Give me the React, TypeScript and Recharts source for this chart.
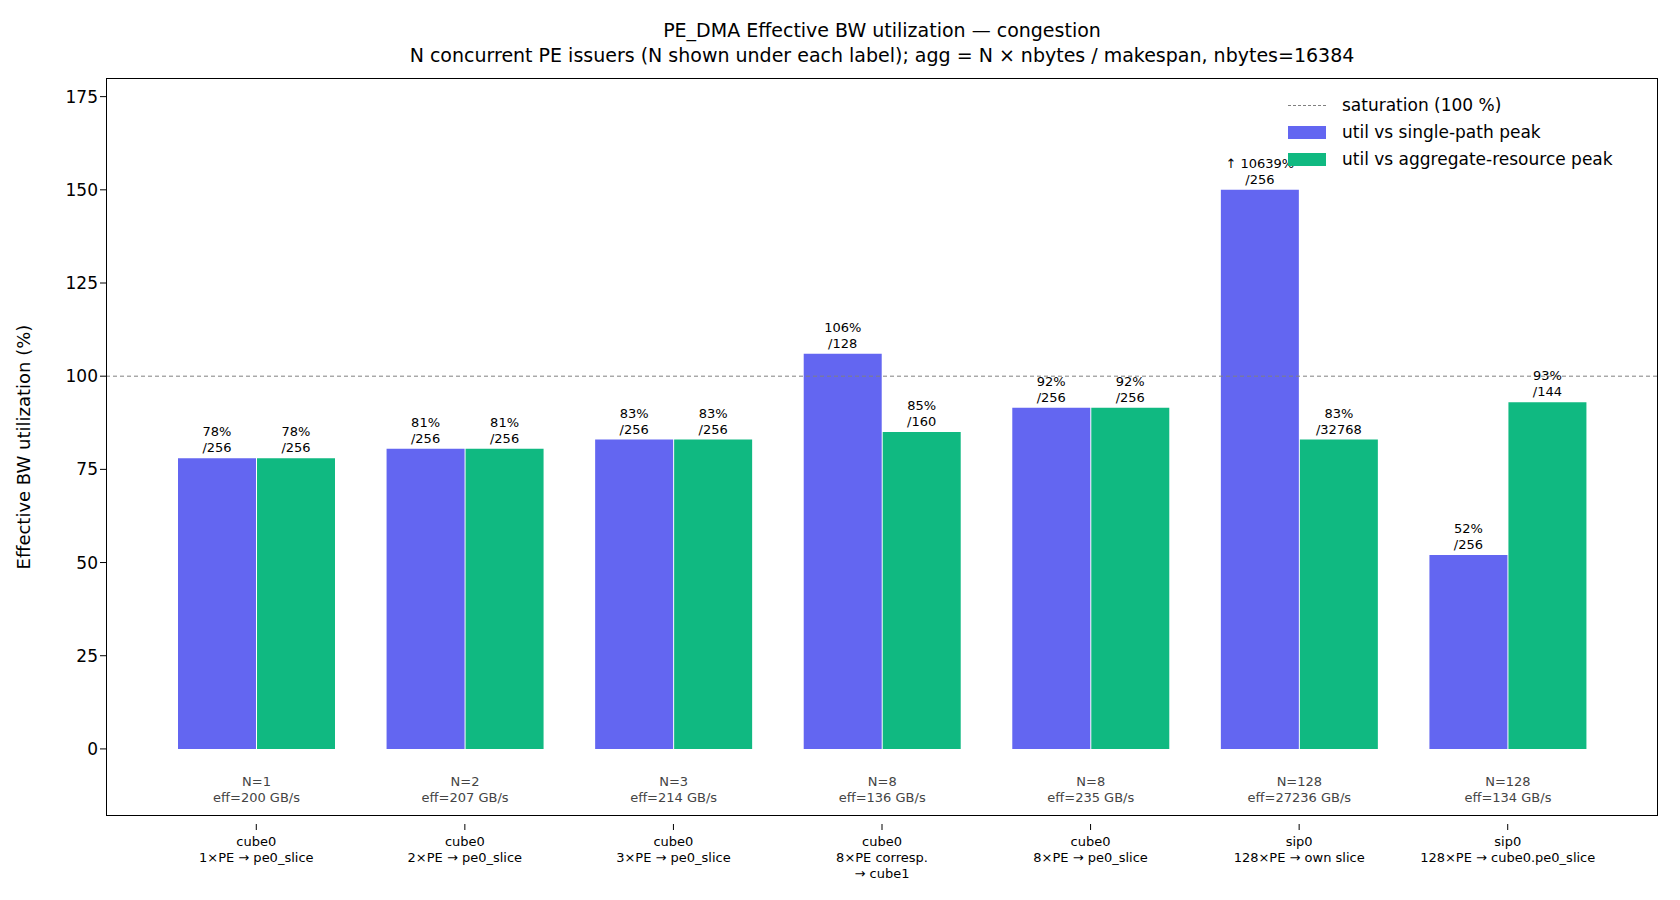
import React from "react";
import {
  Bar,
  ComposedChart,
  LabelList,
  ReferenceLine,
  XAxis,
  YAxis,
} from "recharts";

const categories = [
  "cube0\n1×PE → pe0_slice",
  "cube0\n2×PE → pe0_slice",
  "cube0\n3×PE → pe0_slice",
  "cube0\n8×PE corresp.\n→ cube1",
  "cube0\n8×PE → pe0_slice",
  "sip0\n128×PE → own slice",
  "sip0\n128×PE → cube0.pe0_slice",
];
const singlePath = [78, 80.5, 83, 106, 91.5, 150, 52];
const aggregate = [78, 80.5, 83, 85, 91.5, 83, 93];
const singleLabels = ["78%", "81%", "83%", "106%", "92%", "↑ 10639%", "52%"];
const singlePeaks = ["/256", "/256", "/256", "/128", "/256", "/256", "/256"];
const aggLabels = ["78%", "81%", "83%", "85%", "92%", "83%", "93%"];
const aggPeaks = ["/256", "/256", "/256", "/160", "/256", "/32768", "/144"];
const issuers = [1, 2, 3, 8, 8, 128, 128];
const effBw = [200, 207, 214, 136, 235, 27236, 134];
const yTicks = [0, 25, 50, 75, 100, 125, 150, 175];

const data = categories.map((c, i) => ({
  name: c,
  single: singlePath[i],
  agg: aggregate[i],
  i,
}));

const FONT = "DejaVu Sans, sans-serif";

const makeLabel = (tops: string[], bottoms: string[], withN: boolean) => (props: any) => {
  const { x, y, width, height, index } = props;
  const cx = x + width / 2;
  const zero = y + height;
  return (
    <g fontFamily={FONT}>
      <text x={cx} y={y - 22} textAnchor="middle" fontSize={13} fill="#000">{tops[index]}</text>
      <text x={cx} y={y - 6} textAnchor="middle" fontSize={13} fill="#000">{bottoms[index]}</text>
      {withN && (
        <g fill="#444" fontSize={13}>
          <text x={x - 0.5} y={zero + 37} textAnchor="middle">N={issuers[index]}</text>
          <text x={x - 0.5} y={zero + 53} textAnchor="middle">eff={effBw[index]} GB/s</text>
        </g>
      )}
    </g>
  );
};

const CatTick = (props: any) => {
  const { x, y, payload } = props;
  const lines = String(payload.value).split("\n");
  return (
    <g>
      <line x1={x} x2={x} y1={y} y2={y + 6} stroke="#000" />
      {lines.map((l, k) => (
        <text key={k} x={x} y={y + 22 + k * 16} textAnchor="middle" fontSize={13} fontFamily={FONT} fill="#000">
          {l}
        </text>
      ))}
    </g>
  );
};

export default function App() {
  return (
    <div style={{ position: "relative", width: 1680, height: 900, margin: -8, background: "#fff", fontFamily: FONT }}>
      <div style={{ position: "absolute", top: 18, width: 1680, paddingLeft: 106, paddingRight: 22, boxSizing: "border-box", textAlign: "center", fontSize: 19, lineHeight: "25px" }}>
        <div>PE_DMA Effective BW utilization — congestion</div>
        <div>N concurrent PE issuers (N shown under each label); agg = N × nbytes / makespan, nbytes=16384</div>
      </div>
      <ComposedChart
        width={1680}
        height={900}
        data={data}
        margin={{ top: 78, right: 22, bottom: 0, left: 0 }}
        barCategoryGap={26}
        barGap={1}
      >
        <XAxis
          dataKey="name"
          tick={<CatTick />}
          tickLine={false}
          axisLine={false}
          interval={0}
          height={84}
          padding={{ left: 46, right: 46 }}
        />
        <YAxis
          width={106}
          domain={[-18, 180]}
          ticks={yTicks}
          allowDataOverflow
          axisLine={false}
          tickLine={{ stroke: "#000" }}
          tickSize={6}
          tick={{ fontSize: 17, fill: "#000", fontFamily: FONT }}
          label={{ value: "Effective BW utilization (%)", angle: -90, position: "insideLeft", offset: 24, style: { textAnchor: "middle", fontSize: 18, fill: "#000", fontFamily: FONT } }}
        />
        <ReferenceLine y={100} stroke="#808080" strokeDasharray="4 3" strokeWidth={1} />
        <Bar dataKey="single" fill="#6366f1" isAnimationActive={false}>
          <LabelList content={makeLabel(singleLabels, singlePeaks, false)} />
        </Bar>
        <Bar dataKey="agg" fill="#10b981" isAnimationActive={false}>
          <LabelList content={makeLabel(aggLabels, aggPeaks, true)} />
        </Bar>
      </ComposedChart>
      <div style={{ position: "absolute", left: 106, top: 78, width: 1552, height: 738, border: "1.5px solid #000", boxSizing: "border-box", pointerEvents: "none" }} />
      <div style={{ position: "absolute", left: 1288, top: 92, fontSize: 17, lineHeight: "27px" }}>
        {[
          { k: "line", t: "saturation (100 %)" },
          { k: "#6366f1", t: "util vs single-path peak" },
          { k: "#10b981", t: "util vs aggregate-resource peak" },
        ].map((e) => (
          <div key={e.t} style={{ display: "flex", alignItems: "center" }}>
            {e.k === "line" ? (
              <div style={{ width: 38, borderTop: "1px dashed #808080", marginRight: 16 }} />
            ) : (
              <div style={{ width: 38, height: 13, background: e.k, marginRight: 16 }} />
            )}
            <span>{e.t}</span>
          </div>
        ))}
      </div>
    </div>
  );
}
